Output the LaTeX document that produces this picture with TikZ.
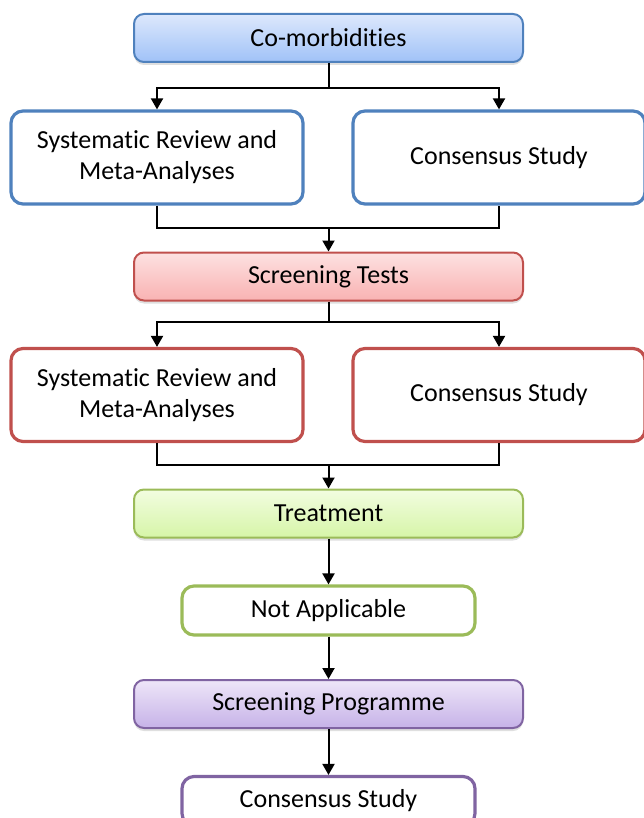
\documentclass[tikz,border=0pt]{standalone}
\usepackage{fontspec}
\setmainfont[Ligatures={NoCommon}]{Carlito}
\usetikzlibrary{arrows.meta,shadows}

\definecolor{bluedraw}{RGB}{79,129,189}
\definecolor{reddraw}{RGB}{192,80,77}
\definecolor{greendraw}{RGB}{155,187,89}
\definecolor{purpledraw}{RGB}{128,100,162}

\tikzset{
	box/.style={draw, text=black, align=center, inner sep=0pt, font=\fontsize{13}{15.5}\selectfont},
	head/.style={box, line width=1pt, rounded corners=5pt, minimum width=194.5pt, minimum height=24pt,
		drop shadow={opacity=0.25, shadow xshift=0pt, shadow yshift=-1.5pt}},
	study/.style={box, fill=white, line width=1.6pt, rounded corners=6pt, minimum width=146pt, minimum height=46.5pt},
	single/.style={study, minimum width=146.5pt, minimum height=24.5pt},
	link/.style={line width=1pt, -{Triangle[length=5.5pt,width=6pt]}},
}

\begin{document}
\begin{tikzpicture}[x=0.5pt, y=-0.5pt]
		\useasboundingbox (0,0) rectangle (643,818);
		
		% headings
		\node[head, draw=bluedraw, top color={rgb,255:red,221;green,232;blue,252}, bottom color={rgb,255:red,160;green,194;blue,248}] (como) at (328.5,38) {Co-morbidities};
		\node[head, draw=reddraw, top color={rgb,255:red,253;green,226;blue,226}, bottom color={rgb,255:red,249;green,178;blue,178}] (screen) at (328.5,276.5) {Screening Tests};
		\node[head, draw=greendraw, top color={rgb,255:red,242;green,253;blue,224}, bottom color={rgb,255:red,214;green,245;blue,168}] (treat) at (328.5,513.5) {Treatment};
		\node[head, draw=purpledraw, top color={rgb,255:red,238;green,230;blue,248}, bottom color={rgb,255:red,198;green,178;blue,232}] (prog) at (328.5,704) {Screening Programme};
		
		% studies
		\node[study, draw=bluedraw] (review1) at (157,157.5) {Systematic Review and\\Meta-Analyses};
		\node[study, draw=bluedraw] (consensus1) at (499,157.5) {Consensus Study};
		\node[study, draw=reddraw] (review2) at (157,395) {Systematic Review and\\Meta-Analyses};
		\node[study, draw=reddraw] (consensus2) at (499,395) {Consensus Study};
		\node[single, draw=greendraw] (notapp) at (328.5,610.5) {Not Applicable};
		\node[single, draw=purpledraw] (consensus3) at (328.5,801) {Consensus Study};
		
		% branches and merges
		\foreach \a/\l/\r/\y in {como/review1/consensus1/88, screen/review2/consensus2/322}{
			\draw[line width=1pt] (\a.south) -- (328.5,\y);
			\draw[link] (328.5,\y) -| (\l.north);
			\draw[link] (328.5,\y) -| (\r.north);
		}
		\foreach \l/\r/\b/\y in {review1/consensus1/screen/228, review2/consensus2/treat/465}{
			\draw[line width=1pt] (\l.south) |- (\r.south |- 0,\y) -- (\r.south);
			\draw[link] (328.5,\y) -- (\b.north);
		}
		
		\draw[link] (treat) -- (notapp);
		\draw[link] (notapp) -- (prog);
		\draw[link] (prog) -- (consensus3);
\end{tikzpicture}
\end{document}
